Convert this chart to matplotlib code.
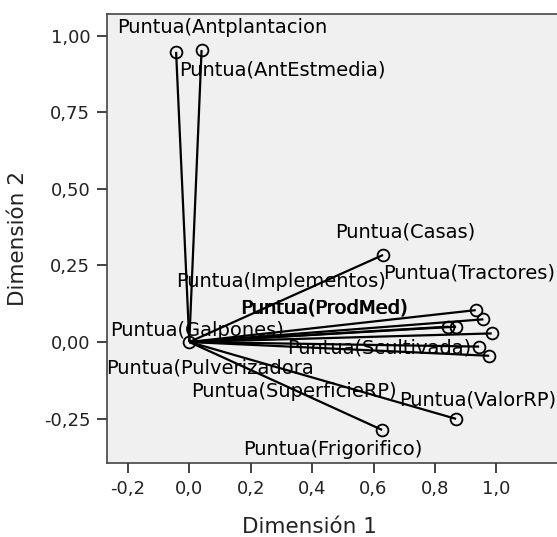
import matplotlib
matplotlib.use("Agg")
import matplotlib.pyplot as plt

# Data: component loadings (Dimension 1, Dimension 2)
variables = ["Antplantacion", "AntEstmedia", "Casas", "Tractores", "ProdMed",
             "Implementos", "ProdMed", "Scultivada", "SuperficieRP",
             "Pulverizadora", "Galpones", "ValorRP", "Frigorifico"]
dim1 = [-0.043, 0.040, 0.631, 0.933, 0.958, 0.844, 0.869, 0.985, 0.944,
        0.977, 0.000, 0.869, 0.628]
dim2 = [0.947, 0.953, 0.284, 0.104, 0.074, 0.050, 0.050, 0.028, -0.015,
        -0.045, 0.000, -0.251, -0.287]

# Label texts and their placement (data coords)
label_texts = ["Puntua(Antplantacion", "Puntua(AntEstmedia)", "Puntua(Casas)",
               "Puntua(Tractores)", "Puntua(Implementos)", "Puntua(ProdMed)",
               "Puntua(ProdMed)", "Puntua(Galpones)", "Puntua(Scultivada)",
               "Puntua(Pulverizadora", "Puntua(SuperficieRP)", "Puntua(ValorRP)",
               "Puntua(Frigorifico)"]
label_pos = [(0.107, 1.025), (0.302, 0.888), (0.704, 0.359), (0.911, 0.225),
             (0.299, 0.196), (0.439, 0.111), (0.442, 0.111), (0.025, 0.039),
             (0.618, -0.020), (0.067, -0.085), (0.341, -0.163), (0.940, -0.189),
             (0.468, -0.352)]

xticks = [-0.2, 0.0, 0.2, 0.4, 0.6, 0.8, 1.0]
xticklabels = ["-0,2", "0,0", "0,2", "0,4", "0,6", "0,8", "1,0"]
yticks = [-0.25, 0.0, 0.25, 0.5, 0.75, 1.0]
yticklabels = ["-0,25", "0,00", "0,25", "0,50", "0,75", "1,00"]

W, H = 557, 537
fig = plt.figure(figsize=(W / 100, H / 100), dpi=100)
fig.patch.set_facecolor("white")
ax_l, ax_r, ax_t, ax_b = 107, 559, 14, 463
ax = fig.add_axes([ax_l / W, 1 - ax_b / H, (ax_r - ax_l) / W, (ax_b - ax_t) / H])
ax.set_facecolor("#f0f0f0")

# x: 0.0 at px 189.3, 0.2 per 61.4 px ; y: 0.0 at px 342, 0.25 per 76.6 px
ax.set_xlim((ax_l - 189.3) / 307.0, (ax_r - 189.3) / 307.0)
ax.set_ylim((342 - ax_b) / 306.4, (342 - ax_t) / 306.4)

for x, y in zip(dim1, dim2):
    ax.plot([0, x], [0, y], color="black", lw=1.6, zorder=3, solid_capstyle="butt")
ax.plot(dim1, dim2, linestyle="none", marker="o", markersize=8.5,
        markerfacecolor="none", markeredgecolor="black", markeredgewidth=1.3,
        zorder=4)

for txt, (lx, ly) in zip(label_texts, label_pos):
    ax.text(lx, ly, txt, ha="center", va="center", fontsize=14,
            color="black", zorder=2)

ax.set_xticks(xticks)
ax.set_xticklabels(xticklabels)
ax.set_yticks(yticks)
ax.set_yticklabels(yticklabels)
ax.tick_params(axis="both", direction="out", length=7, width=1.2,
               labelsize=13, colors="#222222", pad=5)
ax.tick_params(top=False, right=False)

for s in ax.spines.values():
    s.set_color("#444444")
    s.set_linewidth(1.2)

ax.set_xlabel("Dimensión 1", fontsize=15.5, color="#222222")
ax.xaxis.label.set_va("center")
ax.xaxis.set_label_coords((309.5 - ax_l) / (ax_r - ax_l), (ax_b - 527) / (ax_b - ax_t))
ax.set_ylabel("Dimensión 2", fontsize=15.5, color="#222222")
ax.yaxis.label.set_va("center")
ax.yaxis.set_label_coords((18 - ax_l) / (ax_r - ax_l), (ax_b - 238) / (ax_b - ax_t))

fig.savefig("out.png", dpi=100, facecolor="white")
